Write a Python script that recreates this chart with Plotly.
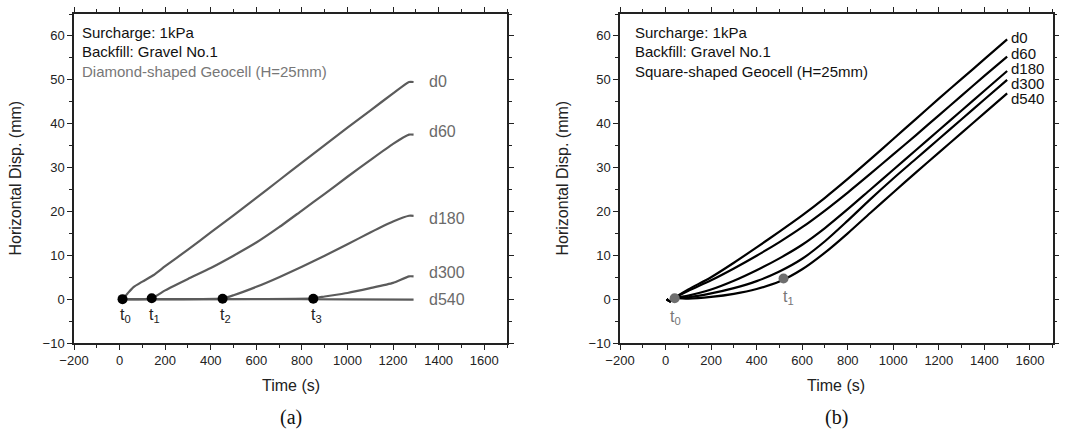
import plotly.graph_objects as go

# ---------------- data: panel (a) diamond-shaped geocell ----------------
a_d0_t = [13, 35, 60, 100, 150, 200, 300, 400, 500, 600, 700, 800, 900, 1000, 1100, 1200, 1270, 1290]
a_d0_v = [0, 1.3, 2.7, 4.0, 5.5, 7.5, 11.3, 15.2, 19.1, 23.1, 27.1, 31.1, 35.1, 39.1, 43.0, 46.9, 49.5, 49.5]
a_d60_t = [13, 140, 200, 300, 400, 500, 600, 700, 800, 900, 1000, 1100, 1200, 1270, 1290]
a_d60_v = [0, 0.2, 2.0, 4.6, 7.1, 9.9, 12.9, 16.4, 20.2, 24.0, 27.9, 31.7, 35.4, 37.5, 37.5]
a_d180_t = [13, 452, 500, 600, 700, 800, 900, 1000, 1100, 1200, 1270, 1290]
a_d180_v = [0, 0.2, 0.9, 2.8, 5.0, 7.4, 9.9, 12.5, 15.2, 17.7, 19.0, 19.0]
a_d300_t = [13, 850, 900, 1000, 1100, 1200, 1270, 1290]
a_d300_v = [0, 0.2, 0.6, 1.4, 2.5, 3.7, 5.2, 5.2]
a_d540_t = [13, 600, 1000, 1290]
a_d540_v = [0, 0, -0.05, -0.1]
a_marker_t = [13, 141, 452, 850]
a_marker_v = [0, 0.2, 0.1, 0.1]
a_marker_lbl = ["t<sub>0</sub>", "t<sub>1</sub>", "t<sub>2</sub>", "t<sub>3</sub>"]

# ---------------- data: panel (b) square-shaped geocell ----------------
b_t = [5, 20, 40, 100, 200, 300, 400, 500, 600, 700, 800, 900, 1000, 1100, 1200, 1300, 1400, 1500]
b_d0 = [0, -0.5, 0.3, 2.2, 5.0, 8.3, 11.8, 15.4, 19.1, 23.1, 27.4, 31.9, 36.5, 41.1, 45.7, 50.2, 54.7, 59.2]
b_d60 = [0, -0.5, 0.3, 1.9, 4.3, 7.0, 9.9, 13.0, 16.4, 20.2, 24.3, 28.6, 33.0, 37.4, 41.9, 46.4, 50.9, 55.3]
b_d180 = [0, -0.5, 0.2, 0.8, 2.2, 4.2, 6.6, 9.3, 12.4, 16.2, 20.5, 25.0, 29.5, 34.0, 38.5, 43.0, 47.5, 52.0]
b_d300 = [0, -0.5, 0.2, 0.4, 1.3, 2.5, 4.1, 6.3, 9.2, 13.2, 17.9, 22.8, 27.5, 32.0, 36.5, 41.0, 45.5, 50.0]
b_d540 = [0, -0.5, 0.2, 0.1, 0.5, 1.2, 2.3, 4.0, 6.8, 10.6, 15.0, 19.7, 24.3, 28.9, 33.4, 37.9, 42.4, 46.9]
b_marker_t = [40, 518]
b_marker_v = [0.2, 4.7]
b_marker_lbl = ["t<sub>0</sub>", "t<sub>1</sub>"]

depth_labels = ["d0", "d60", "d180", "d300", "d540"]
a_label_y = [49.6, 38.3, 18.4, 6.1, 0]
b_label_y = [59.7, 56.0, 52.5, 49.1, 45.7]

x_ticks = [-200, 0, 200, 400, 600, 800, 1000, 1200, 1400, 1600]
y_ticks = [-10, 0, 10, 20, 30, 40, 50, 60]

FONT = "Liberation Sans, Arial, sans-serif"
GRAY_LINE = "#5b5b5b"
GRAY_TXT = "#6a6a6a"

fig = go.Figure()

# panel (a) lines
a_series = [(a_d0_t, a_d0_v), (a_d60_t, a_d60_v), (a_d180_t, a_d180_v),
            (a_d300_t, a_d300_v), (a_d540_t, a_d540_v)]
for (t, v), name in zip(a_series, depth_labels):
    fig.add_trace(go.Scatter(x=t, y=v, mode="lines", name=name, xaxis="x", yaxis="y",
                             line=dict(color=GRAY_LINE, width=2.2, shape="spline", smoothing=0.5),
                             showlegend=False))
fig.add_trace(go.Scatter(x=a_marker_t, y=a_marker_v, mode="markers", xaxis="x", yaxis="y",
                         marker=dict(color="black", size=10), showlegend=False))

# panel (b) lines
for v, name in zip([b_d0, b_d60, b_d180, b_d300, b_d540], depth_labels):
    fig.add_trace(go.Scatter(x=b_t, y=v, mode="lines", name=name, xaxis="x2", yaxis="y2",
                             line=dict(color="black", width=2.2, shape="spline", smoothing=0.8),
                             showlegend=False))
fig.add_trace(go.Scatter(x=b_marker_t, y=b_marker_v, mode="markers", xaxis="x2", yaxis="y2",
                         marker=dict(color="#6e6e6e", size=10), showlegend=False))

ydom = [89 / 432, 418 / 432]
xdom_a = [74 / 1081, 507 / 1081]
xdom_b = [620 / 1081, 1052.7 / 1081]

def xaxis(dom, anchor):
    return dict(domain=dom, anchor=anchor, range=[-200, 1700], tickvals=x_ticks,
                showline=True, linecolor="#222", linewidth=1.5, mirror="allticks",
                ticks="outside", ticklen=5, tickwidth=1.2, tickcolor="#222",
                minor=dict(ticks="outside", ticklen=3, dtick=100, tick0=0, tickcolor="#222", tickwidth=1.2),
                showgrid=False, zeroline=False, automargin=False,
                tickfont=dict(family=FONT, size=13, color="#222"))

def yaxis(dom, anchor):
    return dict(domain=dom, anchor=anchor, range=[-10, 65], tickvals=y_ticks,
                showline=True, linecolor="#222", linewidth=1.5, mirror="allticks",
                ticks="outside", ticklen=5, tickwidth=1.2, tickcolor="#222",
                minor=dict(ticks="outside", ticklen=3, dtick=5, tick0=0, tickcolor="#222", tickwidth=1.2),
                showgrid=False, zeroline=False, automargin=False,
                tickfont=dict(family=FONT, size=13, color="#222"))

ann = []
# text blocks
for i, (txt, col) in enumerate([("Surcharge: 1kPa", "#111"), ("Backfill: Gravel No.1", "#111"),
                                ("Diamond-shaped Geocell (H=25mm)", "#777")]):
    ann.append(dict(xref="x domain", yref="y domain", x=0.013, y=(343 - (32 + 19.5 * i)) / 329,
                    text=txt, showarrow=False, xanchor="left", yanchor="middle",
                    font=dict(family=FONT, size=15, color=col)))
for i, txt in enumerate(["Surcharge: 1kPa", "Backfill: Gravel No.1", "Square-shaped Geocell (H=25mm)"]):
    ann.append(dict(xref="x2 domain", yref="y2 domain", x=0.03, y=(343 - (32 + 19.5 * i)) / 329,
                    text=txt, showarrow=False, xanchor="left", yanchor="middle",
                    font=dict(family=FONT, size=15, color="#111")))
# depth labels
for lbl, yv in zip(depth_labels, a_label_y):
    ann.append(dict(xref="x", yref="y", x=1350, y=yv, text=lbl, showarrow=False,
                    xanchor="left", yanchor="middle", font=dict(family=FONT, size=16, color=GRAY_TXT)))
for lbl, yv in zip(depth_labels, b_label_y):
    ann.append(dict(xref="x2", yref="y2", x=1510, y=yv, text=lbl, showarrow=False,
                    xanchor="left", yanchor="middle", font=dict(family=FONT, size=15, color="#111")))
# t labels
for t, lbl in zip(a_marker_t, a_marker_lbl):
    ann.append(dict(xref="x", yref="y", x=t + 12, y=-3.7, text=lbl, showarrow=False,
                    xanchor="center", yanchor="middle", font=dict(family=FONT, size=16, color="#222")))
ann.append(dict(xref="x2", yref="y2", x=b_marker_t[0] + 5, y=-4.2, text=b_marker_lbl[0], showarrow=False,
                xanchor="center", yanchor="middle", font=dict(family=FONT, size=16, color="#777")))
ann.append(dict(xref="x2", yref="y2", x=b_marker_t[1] + 20, y=0.4, text=b_marker_lbl[1], showarrow=False,
                xanchor="center", yanchor="middle", font=dict(family=FONT, size=16, color="#777")))
# axis titles
for xr, yr, ylx in [("x domain", "y domain", 15), ("x2 domain", "y2 domain", 562)]:
    ann.append(dict(xref=xr, yref="paper", x=0.5, y=1 - 385 / 432, text="Time (s)", showarrow=False,
                    xanchor="center", yanchor="middle", font=dict(family=FONT, size=16, color="#222")))
    ann.append(dict(xref="paper", yref=yr, x=ylx / 1081, y=0.5, text="Horizontal Disp. (mm)",
                    textangle=-90, showarrow=False, xanchor="center", yanchor="middle",
                    font=dict(family=FONT, size=16, color="#222")))
# panel letters
for xr, letter in [("x domain", "(a)"), ("x2 domain", "(b)")]:
    ann.append(dict(xref=xr, yref="paper", x=0.5, y=1 - 417 / 432, text=letter, showarrow=False,
                    xanchor="center", yanchor="middle",
                    font=dict(family="Liberation Serif, serif", size=20, color="#111")))

fig.update_layout(
    width=1081, height=432, margin=dict(l=0, r=0, t=0, b=0),
    paper_bgcolor="white", plot_bgcolor="white",
    xaxis=xaxis(xdom_a, "y"), yaxis=yaxis(ydom, "x"),
    xaxis2=xaxis(xdom_b, "y2"), yaxis2=yaxis(ydom, "x2"),
    annotations=ann, showlegend=False,
)

fig.write_html("out.html", config={"displayModeBar": False},
               post_script="document.body.style.margin='0';document.body.style.overflow='hidden';")
